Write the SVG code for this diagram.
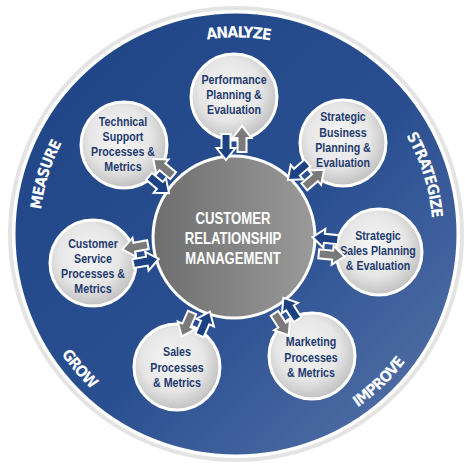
<svg xmlns="http://www.w3.org/2000/svg" xmlns:xlink="http://www.w3.org/1999/xlink" width="474" height="474" viewBox="0 0 474 474">
<defs>
<linearGradient id="discG" x1="0" y1="0" x2="1" y2="1">
<stop offset="0" stop-color="#1f4486"/>
<stop offset="0.55" stop-color="#2a4f91"/>
<stop offset="1" stop-color="#5a76aa"/>
</linearGradient>
<linearGradient id="hubG" x1="0" y1="0" x2="1" y2="0">
<stop offset="0" stop-color="#6e6e6e"/>
<stop offset="1" stop-color="#9a9a9a"/>
</linearGradient>
<radialGradient id="satG" cx="0.45" cy="0.42" r="0.6">
<stop offset="0" stop-color="#f7f7f7"/>
<stop offset="0.6" stop-color="#e6e6e6"/>
<stop offset="1" stop-color="#bebebe"/>
</radialGradient>
<path id="arr" d="M13,0 L1,-9.5 L1,-4.5 L-13,-4.5 L-13,4.5 L1,4.5 L1,9.5 Z"/>
<path id="topArc" d="M39.5,234 A196.5,196.5 0 0 1 432.5,234"/>
<path id="botArc" d="M24,234 A212,212 0 0 0 448,234"/>
<style>
.sat{fill:url(#satG);stroke:#ffffff;stroke-width:3}
.st{font-family:"Liberation Sans",Arial,sans-serif;font-weight:bold;font-size:13px;fill:#1e3a6e;text-anchor:middle}
.hubt{font-family:"Liberation Sans",Arial,sans-serif;font-weight:bold;font-size:16px;fill:#ffffff;text-anchor:middle}
.ring{font-family:"DejaVu Sans Condensed","Liberation Sans",sans-serif;font-weight:bold;font-size:15.5px;letter-spacing:-0.9px;fill:#ffffff;text-anchor:middle}
.ag{fill:#7a7a7a;stroke:#ffffff;stroke-width:2}
.ab{fill:#1d4283;stroke:#ffffff;stroke-width:2}
</style>
</defs>
<rect width="474" height="474" fill="#ffffff"/>
<g id="outer-ring">
<circle cx="236" cy="234" r="226" fill="none" stroke="#e4e4e4" stroke-width="4"/>
<circle cx="236" cy="234" r="222" fill="url(#discG)" stroke="#ffffff" stroke-width="3"/>
<text class="ring"><textPath xlink:href="#topArc" href="#topArc" startOffset="9.6%">MEASURE</textPath></text>
<text class="ring"><textPath xlink:href="#topArc" href="#topArc" startOffset="50.4%">ANALYZE</textPath></text>
<text class="ring"><textPath xlink:href="#topArc" href="#topArc" startOffset="90.3%">STRATEGIZE</textPath></text>
<text class="ring"><textPath xlink:href="#botArc" href="#botArc" startOffset="22.6%">GROW</textPath></text>
<text class="ring"><textPath xlink:href="#botArc" href="#botArc" startOffset="74.4%">IMPROVE</textPath></text>
</g>
<g id="hub">
<circle cx="234" cy="237" r="81" fill="url(#hubG)" stroke="#ffffff" stroke-width="3"/>
<g transform="translate(233,0) scale(0.82,1)">
<text class="hubt" x="0" y="223.7">CUSTOMER</text>
<text class="hubt" x="0" y="243.7">RELATIONSHIP</text>
<text class="hubt" x="0" y="263.7">MANAGEMENT</text>
</g>
</g>
<g id="performance">
<circle class="sat" cx="234" cy="97" r="43"/>
<g transform="translate(234,0) scale(0.82,1)">
<text class="st" x="0" y="84.5">Performance</text>
<text class="st" x="0" y="99.5">Planning &amp;</text>
<text class="st" x="0" y="114.5">Evaluation</text>
</g>
</g>
<g id="strategic-business">
<circle class="sat" cx="343" cy="143" r="43"/>
<g transform="translate(343,0) scale(0.82,1)">
<text class="st" x="0" y="121.5">Strategic</text>
<text class="st" x="0" y="137">Business</text>
<text class="st" x="0" y="152">Planning &amp;</text>
<text class="st" x="0" y="167">Evaluation</text>
</g>
</g>
<g id="strategic-sales">
<circle class="sat" cx="379" cy="252" r="43"/>
<g transform="translate(378,0) scale(0.82,1)">
<text class="st" x="0" y="240.5">Strategic</text>
<text class="st" x="0" y="255.5">Sales Planning</text>
<text class="st" x="0" y="270.5">&amp; Evaluation</text>
</g>
</g>
<g id="marketing">
<circle class="sat" cx="312" cy="356" r="43"/>
<g transform="translate(311,0) scale(0.82,1)">
<text class="st" x="0" y="346.5">Marketing</text>
<text class="st" x="0" y="362">Processes</text>
<text class="st" x="0" y="377.5">&amp; Metrics</text>
</g>
</g>
<g id="sales">
<circle class="sat" cx="177" cy="367" r="43"/>
<g transform="translate(177,0) scale(0.82,1)">
<text class="st" x="0" y="356.5">Sales</text>
<text class="st" x="0" y="372.5">Processes</text>
<text class="st" x="0" y="387.5">&amp; Metrics</text>
</g>
</g>
<g id="customer-service">
<circle class="sat" cx="93" cy="263" r="43"/>
<g transform="translate(93,0) scale(0.82,1)">
<text class="st" x="0" y="248.5">Customer</text>
<text class="st" x="0" y="263.5">Service</text>
<text class="st" x="0" y="278.5">Processes &amp;</text>
<text class="st" x="0" y="293.5">Metrics</text>
</g>
</g>
<g id="technical-support">
<circle class="sat" cx="124" cy="145" r="43"/>
<g transform="translate(123,0) scale(0.82,1)">
<text class="st" x="0" y="126.5">Technical</text>
<text class="st" x="0" y="141.5">Support</text>
<text class="st" x="0" y="156.5">Processes &amp;</text>
<text class="st" x="0" y="171.5">Metrics</text>
</g>
</g>
<g id="connectors">
<g transform="translate(234,237) rotate(-90)"><use href="#arr" class="ag" transform="translate(98,8)"/><use href="#arr" class="ab" transform="translate(90,-8) rotate(180)"/></g>
<g transform="translate(234,237) rotate(-40.8)"><use href="#arr" class="ag" transform="translate(99,8)"/><use href="#arr" class="ab" transform="translate(91,-8) rotate(180)"/></g>
<g transform="translate(234,237) rotate(5.9)"><use href="#arr" class="ag" transform="translate(99,8)"/><use href="#arr" class="ab" transform="translate(91,-8) rotate(180)"/></g>
<g transform="translate(234,237) rotate(56.8)"><use href="#arr" class="ag" transform="translate(99,8)"/><use href="#arr" class="ab" transform="translate(91,-8) rotate(180)"/></g>
<g transform="translate(234,237) rotate(113.7)"><use href="#arr" class="ag" transform="translate(99,8)"/><use href="#arr" class="ab" transform="translate(91,-8) rotate(180)"/></g>
<g transform="translate(234,237) rotate(169.6)"><use href="#arr" class="ag" transform="translate(99,8)"/><use href="#arr" class="ab" transform="translate(91,-8) rotate(180)"/></g>
<g transform="translate(234,237) rotate(-140.1)"><use href="#arr" class="ag" transform="translate(99,8)"/><use href="#arr" class="ab" transform="translate(91,-8) rotate(180)"/></g>
</g>
</svg>
